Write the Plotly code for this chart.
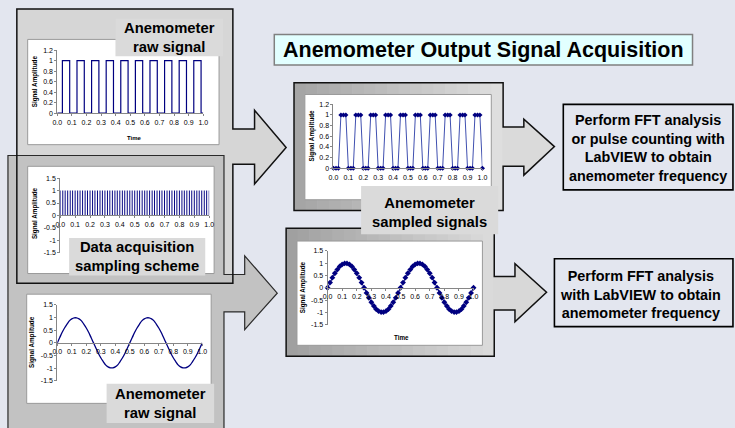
import plotly.graph_objects as go

# ---------------- data ----------------
# raw square-wave signal (edge times and levels, drawn as steps)
raw_square_t = [0.0, 0.035, 0.085, 0.135, 0.185, 0.235, 0.285, 0.335, 0.385, 0.435, 0.485,
                0.535, 0.585, 0.635, 0.685, 0.735, 0.785, 0.835, 0.885, 0.935, 0.985, 1.0]
raw_square_v = [0, 1, 0, 1, 0, 1, 0, 1, 0, 1, 0,
                1, 0, 1, 0, 1, 0, 1, 0, 1, 0, 0]

# sampling instants
sample_t = [0.000, 0.017, 0.033, 0.050, 0.067, 0.083, 0.100, 0.117, 0.133, 0.150,
            0.167, 0.183, 0.200, 0.217, 0.233, 0.250, 0.267, 0.283, 0.300, 0.317,
            0.333, 0.350, 0.367, 0.383, 0.400, 0.417, 0.433, 0.450, 0.467, 0.483,
            0.500, 0.517, 0.533, 0.550, 0.567, 0.583, 0.600, 0.617, 0.633, 0.650,
            0.667, 0.683, 0.700, 0.717, 0.733, 0.750, 0.767, 0.783, 0.800, 0.817,
            0.833, 0.850, 0.867, 0.883, 0.900, 0.917, 0.933, 0.950, 0.967, 0.983, 1.000]

# sampling pulses (data acquisition scheme)
sampling_pulse = [1, 1, 1, 1, 1, 1, 1, 1, 1, 1,
                  1, 1, 1, 1, 1, 1, 1, 1, 1, 1,
                  1, 1, 1, 1, 1, 1, 1, 1, 1, 1,
                  1, 1, 1, 1, 1, 1, 1, 1, 1, 1,
                  1, 1, 1, 1, 1, 1, 1, 1, 1, 1,
                  1, 1, 1, 1, 1, 1, 1, 1, 1, 1, 1]

# sampled square wave
sampled_square = [0, 0, 0, 1, 1, 1, 0, 0, 0, 1,
                  1, 1, 0, 0, 0, 1, 1, 1, 0, 0,
                  0, 1, 1, 1, 0, 0, 0, 1, 1, 1,
                  0, 0, 0, 1, 1, 1, 0, 0, 0, 1,
                  1, 1, 0, 0, 0, 1, 1, 1, 0, 0,
                  0, 1, 1, 1, 0, 0, 0, 1, 1, 1, 0]

# sine signal (raw and sampled)
sine_amp = [0.00, 0.21, 0.41, 0.59, 0.74, 0.87, 0.95, 0.99, 0.99, 0.95,
            0.87, 0.74, 0.59, 0.41, 0.21, 0.00, -0.21, -0.41, -0.59, -0.74,
            -0.87, -0.95, -0.99, -0.99, -0.95, -0.87, -0.74, -0.59, -0.41, -0.21,
            0.00, 0.21, 0.41, 0.59, 0.74, 0.87, 0.95, 0.99, 0.99, 0.95,
            0.87, 0.74, 0.59, 0.41, 0.21, 0.00, -0.21, -0.41, -0.59, -0.74,
            -0.87, -0.95, -0.99, -0.99, -0.95, -0.87, -0.74, -0.59, -0.41, -0.21, 0.00]

time_ticks = [0.0, 0.1, 0.2, 0.3, 0.4, 0.5, 0.6, 0.7, 0.8, 0.9, 1.0]
time_tick_text = ["0.0", "0.1", "0.2", "0.3", "0.4", "0.5", "0.6", "0.7", "0.8", "0.9", "1.0"]
sq_amp_ticks = [0, 0.2, 0.4, 0.6, 0.8, 1, 1.2]
sq_amp_text = ["0", "0.2", "0.4", "0.6", "0.8", "1", "1.2"]
sine_amp_ticks = [-1.5, -1, -0.5, 0, 0.5, 1, 1.5]
sine_amp_text = ["-1.5", "-1", "-0.5", "0", "0.5", "1", "1.5"]

title_text = "Anemometer Output Signal Acquisition"
label_raw = "Anemometer<br>raw signal"
label_daq = "Data acquisition<br>sampling scheme"
label_sampled = "Anemometer<br>sampled signals"
box1_text = "Perform FFT analysis<br>or pulse counting with<br>LabVIEW to obtain<br>anemometer frequency"
box2_text = "Perform FFT analysis<br>with LabVIEW to obtain<br>anemometer frequency"

# ---------------- geometry helpers ----------------
W, H = 735, 428
FONT = "Arial, Liberation Sans, sans-serif"
NAVY = "#000080"
AXC = "#868686"


def X(p):
    return p / W


def Y(p):
    return 1 - p / H


shapes = []


def poly_path(pts):
    return "M " + " L ".join(f"{X(a):.5f},{Y(b):.5f}" for a, b in pts) + " Z"


def add_poly(pts, fill=None, line_color=None, width=1.0, layer="below"):
    shapes.append(dict(type="path", path=poly_path(pts), xref="paper", yref="paper",
                       fillcolor=fill if fill else "rgba(0,0,0,0)",
                       line=dict(color=line_color if line_color else "rgba(0,0,0,0)",
                                 width=width if line_color else 0),
                       layer=layer))


def add_rect(x0, y0, x1, y1, fill, line_color=None, width=1.0, layer="below"):
    shapes.append(dict(type="rect", xref="paper", yref="paper",
                       x0=X(x0), x1=X(x1), y0=Y(y1), y1=Y(y0),
                       fillcolor=fill,
                       line=dict(color=line_color if line_color else "rgba(0,0,0,0)",
                                 width=width if line_color else 0),
                       layer=layer))


def gradient_rect(x0, y0, x1, y1, c0, c1, n=18):
    for i in range(n):
        f = i / (n - 1)
        c = tuple(int(round(c0[k] + (c1[k] - c0[k]) * f)) for k in range(3))
        xa = x0 + (x1 - x0) * i / n
        xb = x0 + (x1 - x0) * (i + 1) / n + 0.6
        add_rect(xa, y0, min(xb, x1), y1, f"rgb{c}")


# ---------------- frames (arrows) ----------------
top_left_arrow = [(12, 5), (231, 5), (231, 127), (253, 127), (253, 108), (285, 146),
                  (253, 183), (253, 163), (231, 163), (231, 284), (12, 284)]
bottom_left_arrow = [(3, 154), (222, 154), (222, 275), (243, 275), (243, 256), (276, 294),
                     (243, 331), (243, 313), (222, 313), (222, 432), (3, 432)]
add_poly(top_left_arrow, fill="#d6d6d6")
add_poly(bottom_left_arrow, fill="#c2c2c2", line_color="#2a2a2a", width=1.2)
add_poly(top_left_arrow, fill=None, line_color="#111111", width=1.5)

# centre-top frame
ct_arrow = [(504, 125), (526, 125), (526, 117), (557, 145), (526, 174), (526, 165), (504, 165)]
gradient_rect(293, 80, 505, 210, (165, 165, 165), (222, 222, 222))
add_poly(ct_arrow, fill="#dadada")
add_poly([(293, 80), (505, 80), (505, 125), (526, 125), (526, 117), (557, 145), (526, 174),
          (526, 165), (505, 165), (505, 210), (293, 210)], line_color="#111111", width=1.5)

# centre-bottom frame
cb_arrow = [(495, 277), (517, 277), (517, 264), (549, 293), (517, 323), (517, 311), (495, 311)]
gradient_rect(285, 228, 496, 358, (160, 160, 160), (218, 218, 218))
add_poly(cb_arrow, fill="#d8d8d8")
add_poly([(285, 228), (496, 228), (496, 277), (517, 277), (517, 264), (549, 293), (517, 323),
          (517, 311), (496, 311), (496, 358), (285, 358)], line_color="#111111", width=1.5)

# white chart panels
for (a, b, c, d) in [(23, 36, 217, 143), (23, 165, 212, 274), (304, 92, 493, 199),
                     (22, 295, 209, 406), (296, 241, 484, 347)]:
    add_rect(a, b, c, d, "#ffffff", line_color="#9a9a9a", width=1)

# label boxes, title box, text boxes (above traces)
add_rect(112, 15, 221, 53, "#dadada", layer="above")
add_rect(65, 238, 203, 276, "#dadada", layer="above")
add_rect(361, 185, 500, 234, "#dadada", layer="above")
add_rect(103, 386, 212, 426, "#dadada", layer="above")
add_rect(273, 31, 697, 62, "#e2ffff", line_color="#808080", width=1.5, layer="above")
add_rect(566, 102, 738, 189, "rgba(0,0,0,0)", line_color="#000000", width=1.6, layer="above")
add_rect(557, 259, 738, 328, "rgba(0,0,0,0)", line_color="#000000", width=1.6, layer="above")

# ---------------- chart axes ----------------
layout_axes = {}


def make_axes(i, xp0, xp1, ytop, ybot, yr, yticks, ytext, cross_zero):
    xd = [X(xp0), X(xp1)]
    yd = [Y(ybot), Y(ytop)]
    sfx = "" if i == 1 else str(i)
    xa = dict(domain=xd, range=[0, 1], tickvals=time_ticks, ticktext=time_tick_text,
              showline=True, linecolor=AXC, linewidth=1, ticks="outside", ticklen=2,
              tickcolor=AXC, tickfont=dict(size=7, color="#000", family=FONT),
              showgrid=False, zeroline=False, fixedrange=True)
    if cross_zero:
        pos = yd[0] + (yd[1] - yd[0]) * (0 - yr[0]) / (yr[1] - yr[0])
        xa.update(anchor="free", position=pos)
    else:
        xa.update(anchor="y" + sfx)
    ya = dict(domain=yd, range=yr, tickvals=yticks, ticktext=ytext, anchor="x" + sfx,
              showline=True, linecolor=AXC, linewidth=1, ticks="outside", ticklen=2,
              tickcolor=AXC, tickfont=dict(size=7, color="#000", family=FONT),
              showgrid=False, zeroline=False, fixedrange=True)
    layout_axes["xaxis" + sfx] = xa
    layout_axes["yaxis" + sfx] = ya
    return "x" + sfx, "y" + sfx


axA = make_axes(1, 53, 201, 47, 111, [0, 1.2], sq_amp_ticks, sq_amp_text, False)
axB = make_axes(2, 56, 207, 177, 253, [-1.5, 1.5], sine_amp_ticks, sine_amp_text, True)
axC = make_axes(3, 333, 484, 102, 167, [0, 1.2], sq_amp_ticks, sq_amp_text, False)
axD = make_axes(4, 53, 200, 306, 383, [-1.5, 1.5], sine_amp_ticks, sine_amp_text, True)
axE = make_axes(5, 327, 475, 251, 326, [-1.5, 1.5], sine_amp_ticks, sine_amp_text, True)

fig = go.Figure()
fig.add_trace(go.Scatter(x=raw_square_t, y=raw_square_v, mode="lines",
                         line=dict(color=NAVY, width=1.2, shape="hv"),
                         xaxis=axA[0], yaxis=axA[1], cliponaxis=False, hoverinfo="skip"))
fig.add_trace(go.Bar(x=sample_t, y=sampling_pulse, width=0.0065, marker=dict(color=NAVY, line=dict(width=0)),
                     xaxis=axB[0], yaxis=axB[1], cliponaxis=False, hoverinfo="skip"))
fig.add_trace(go.Scatter(x=sample_t, y=sampled_square, mode="lines+markers",
                         line=dict(color="#4050b0", width=1),
                         marker=dict(symbol="diamond", size=4, color=NAVY),
                         xaxis=axC[0], yaxis=axC[1], cliponaxis=False, hoverinfo="skip"))
fig.add_trace(go.Scatter(x=sample_t, y=sine_amp, mode="lines",
                         line=dict(color=NAVY, width=1.3, shape="spline"),
                         xaxis=axD[0], yaxis=axD[1], cliponaxis=False, hoverinfo="skip"))
fig.add_trace(go.Scatter(x=sample_t, y=sine_amp, mode="lines+markers",
                         line=dict(color=NAVY, width=1),
                         marker=dict(symbol="diamond", size=4.5, color=NAVY),
                         xaxis=axE[0], yaxis=axE[1], cliponaxis=False, hoverinfo="skip"))

# ---------------- text ----------------
annotations = []


def add_text(txt, x, y, size, bold=True, angle=0, color="#000000"):
    annotations.append(dict(text=f"<b>{txt}</b>" if bold else txt, x=X(x), y=Y(y),
                            xref="paper", yref="paper", xanchor="center", yanchor="middle",
                            showarrow=False, textangle=angle,
                            font=dict(family=FONT, size=size, color=color)))


add_text(title_text, 485, 47, 21.5)
add_text(label_raw, 166.5, 34, 14.8)
add_text(label_daq, 134, 257, 14.8)
add_text(label_sampled, 430.5, 211.5, 14.8)
add_text(label_raw, 157.5, 406, 14.8)
add_text(box1_text, 652, 146.5, 14.4)
add_text(box2_text, 644, 295, 14.4)

for (xx, yy) in [(30, 79), (30, 213), (311, 134), (28, 344), (302, 288)]:
    add_text("Signal Amplitude", xx, yy, 6.3, angle=-90)
add_text("Time", 131, 136, 6)
add_text("Time", 402, 339, 6.3)

fig.update_layout(width=W, height=H, margin=dict(l=0, r=0, t=0, b=0),
                  paper_bgcolor="#e3e6ef", plot_bgcolor="rgba(0,0,0,0)",
                  showlegend=False, shapes=shapes, annotations=annotations,
                  font=dict(family=FONT), **layout_axes)

fig.write_html("out.html",
               config={"displayModeBar": False, "staticPlot": True},
               post_script="document.body.style.margin='0';document.body.style.padding='0';"
                           "document.body.style.overflow='hidden';")
